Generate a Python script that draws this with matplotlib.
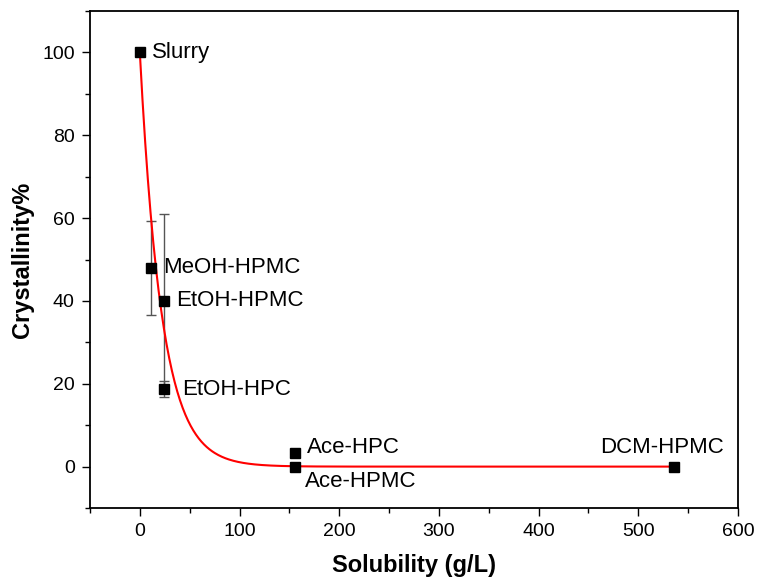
import numpy as np
import matplotlib
matplotlib.use("Agg")
import matplotlib.pyplot as plt
from matplotlib.ticker import MultipleLocator

plt.rcParams['font.family'] = ['Liberation Sans', 'DejaVu Sans']

# data
names = ["Slurry", "MeOH-HPMC", "EtOH-HPMC", "EtOH-HPC", "Ace-HPC", "Ace-HPMC", "DCM-HPMC"]
solubility = [0, 11, 24, 24, 156, 156, 536]
crystallinity = [100, 48, 40, 18.7, 3.4, 0, 0]
err = [0, 11.4, 20.9, 2.0, 0, 0, 0]

# exponential fit  y = A * exp(-x / t)
fit_A = 100.0
fit_t = 22.0

# label offsets in pixels (dx, dy) and alignment
label_pos = {
    "Slurry": (12, 0, 'left'),
    "MeOH-HPMC": (12, 0, 'left'),
    "EtOH-HPMC": (12, 0, 'left'),
    "EtOH-HPC": (18, 0, 'left'),
    "Ace-HPC": (12, 5, 'left'),
    "Ace-HPMC": (10, -15, 'left'),
    "DCM-HPMC": (-12, 19, 'center'),
}

fig = plt.figure(figsize=(7.6, 5.8), dpi=100)
ax = fig.add_axes([0.1184, 0.1241, 0.971 - 0.1184, 0.981 - 0.1241])

xfit = np.linspace(0, max(solubility), 600)
ax.plot(xfit, fit_A * np.exp(-xfit / fit_t), color='red', lw=1.5, zorder=2)

for x, y, e in zip(solubility, crystallinity, err):
    if e > 0:
        ax.errorbar(x, y, yerr=e, fmt='none', ecolor='#555555', elinewidth=1,
                    capsize=3.6, capthick=1, zorder=1)

ax.plot(solubility, crystallinity, 's', color='black', ms=7.2, zorder=3)

for n, x, y in zip(names, solubility, crystallinity):
    dx, dy, ha = label_pos[n]
    ax.annotate(n, (x, y), xytext=(dx, dy), textcoords='offset pixels',
                ha=ha, va='center', fontsize=16)

ax.set_xlim(-50, 600)
ax.set_ylim(-10, 110)
ax.xaxis.set_major_locator(MultipleLocator(100))
ax.xaxis.set_minor_locator(MultipleLocator(50))
ax.yaxis.set_major_locator(MultipleLocator(20))
ax.yaxis.set_minor_locator(MultipleLocator(10))
ax.tick_params(which='major', direction='out', length=6, width=1, labelsize=14, pad=5)
ax.tick_params(which='minor', direction='out', length=3.6, width=1)
for s in ax.spines.values():
    s.set_linewidth(1.3)

ax.set_xlabel("Solubility (g/L)", fontsize=17, fontweight='bold', labelpad=10)
ax.set_ylabel("Crystallinity%", fontsize=17, fontweight='bold', labelpad=6)

fig.savefig("out.png", dpi=100)
